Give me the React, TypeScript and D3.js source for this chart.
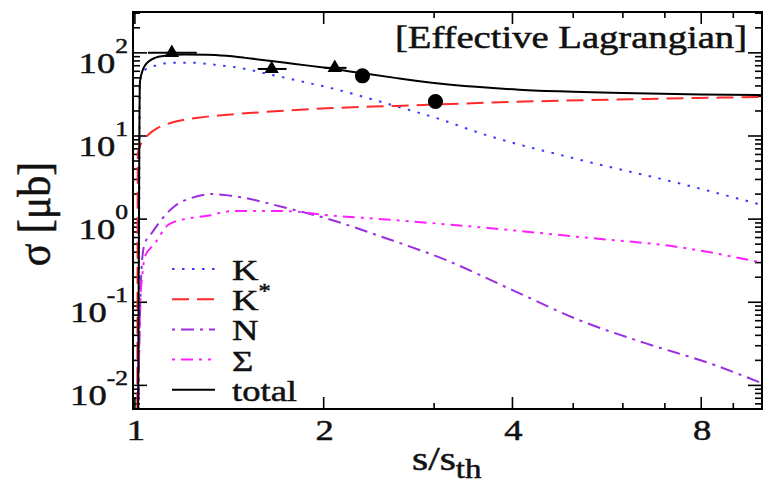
import React from 'react';
import * as d3 from 'd3';

// s/s_th vs sigma [mub]
const kaonCurve: [number, number][] = [
  [1.012, 0.0052], [1.016, 1], [1.018, 46], [1.037, 62], [1.076, 70], [1.148, 76],
  [1.232, 76], [1.36, 71], [1.469, 66], [1.64, 55], [1.878, 44], [2.12, 35.5],
  [2.394, 27.5], [2.71, 21], [3.06, 16], [3.54, 10.9], [5.11, 5.2], [7.37, 2.7], [10, 1.48],
];
const kaonStarCurve: [number, number][] = [
  [1.009, 0.0052], [1.011, 6.2], [1.026, 8.5], [1.049, 10.3], [1.088, 12.5], [1.158, 14.8],
  [1.26, 16.6], [1.391, 17.9], [1.622, 19.5], [2.066, 21.7], [2.61, 23], [4.0, 25.7],
  [6.53, 27.9], [10, 29.5],
];
const nucleonCurve: [number, number][] = [
  [1.012, 0.0052], [1.02, 0.1], [1.026, 0.3], [1.037, 0.51], [1.064, 0.68], [1.104, 1.0],
  [1.158, 1.44], [1.232, 1.8], [1.326, 2.0], [1.432, 1.9], [1.72, 1.4], [2.066, 0.97],
  [2.48, 0.61], [3.14, 0.32], [4.0, 0.14], [5.11, 0.061], [6.53, 0.032], [8.33, 0.018],
  [10, 0.0106],
];
const sigmaCurve: [number, number][] = [
  [1.012, 0.0052], [1.02, 0.1], [1.028, 0.22], [1.037, 0.35], [1.076, 0.51], [1.129, 0.85],
  [1.201, 1.0], [1.307, 1.1], [1.432, 1.25], [1.72, 1.25], [2.066, 1.1], [2.61, 0.97],
  [3.54, 0.8], [5.11, 0.61], [7.37, 0.46], [10, 0.3],
];
const totalCurve: [number, number][] = [
  [1.012, 0.0052], [1.015, 1], [1.017, 20], [1.019, 46], [1.037, 70], [1.076, 87],
  [1.116, 92], [1.2, 95.5], [1.3, 95], [1.4, 92], [1.5, 87], [1.65, 80], [1.8, 73.5],
  [2.0, 66.5], [2.3, 57], [2.6, 50], [3.0, 43.5], [3.5, 39], [4.1, 36], [5.0, 34],
  [6.0, 32.8], [8, 31.5], [10, 31],
];

// measured points: [x, y, xLow, xHigh]
const triangleData: [number, number, number, number][] = [
  [1.145, 100, 1.049, 1.255],
  [1.652, 64, 1.57, 1.745],
  [2.083, 66, 2.006, 2.175],
];
const circleData: [number, number][] = [
  [2.306, 53],
  [3.015, 26],
];

const xTickValues = [1, 2, 4, 8];
const xMinorValues = [3, 5, 6, 7, 9];
const yExponents = [-2, -1, 0, 1, 2];
const legendLabels = ['K', 'K', 'N', 'Σ', 'total'];

const series = [
  { data: kaonCurve, color: '#3a3aff', dash: '2.5 7.5' },
  { data: kaonStarCurve, color: '#ff2a2a', dash: '17 8' },
  { data: nucleonCurve, color: '#9a2fe0', dash: '3 6 13 6' },
  { data: sigmaCurve, color: '#ff1fff', dash: '3 6 12 6 3 6' },
  { data: totalCurve, color: '#000000', dash: null },
];

const W = 765, H = 485;
const L = 133, R = 762, T = 12, B = 409;
const SX = 1.22;
const FONT = 'Liberation Serif';
// the reference text is heavy and soft, a thin outline gives it the same weight
const ink = { fill: '#111', stroke: '#111', strokeWidth: 0.5, fontFamily: FONT };

export default function App() {
  const x = d3.scaleLog().domain([0.993, 10]).range([L, R]);
  const y = d3.scaleLog().domain([0.0052, 310]).range([B, T]);
  const line = d3.line<[number, number]>()
    .x(d => x(d[0]))
    .y(d => y(d[1]))
    .curve(d3.curveMonotoneX);

  const yMinor: number[] = [];
  for (let e = -3; e <= 2; e++) {
    for (let k = 2; k <= 9; k++) {
      const v = k * Math.pow(10, e);
      if (v > 0.0052 && v < 310) yMinor.push(v);
    }
  }

  const tri = d3.symbol().type(d3.symbolTriangle).size(90)();
  const dot = d3.symbol().type(d3.symbolCircle).size(180)();

  return (
    <svg width={W} height={H}
      style={{ position: 'absolute', left: 0, top: 0, background: '#fff' }}>
      <defs>
        <clipPath id="plot"><rect x={L} y={T} width={R - L} height={B - T} /></clipPath>
      </defs>

      {/* ticks */}
      <g stroke="#000" strokeWidth={1.6}>
        {yExponents.map(e => {
          const p = y(Math.pow(10, e));
          return <g key={'ym' + e}>
            <line x1={L} x2={L + 14} y1={p} y2={p} />
            <line x1={R} x2={R - 14} y1={p} y2={p} />
          </g>;
        })}
        {yMinor.map(v => {
          const p = y(v);
          return <g key={'yn' + v}>
            <line x1={L} x2={L + 7} y1={p} y2={p} />
            <line x1={R} x2={R - 7} y1={p} y2={p} />
          </g>;
        })}
        {xTickValues.map(v => {
          const p = x(v);
          return <g key={'xm' + v}>
            <line x1={p} x2={p} y1={B} y2={B - 12} />
            <line x1={p} x2={p} y1={T} y2={T + 12} />
          </g>;
        })}
        {xMinorValues.map(v => {
          const p = x(v);
          return <g key={'xn' + v}>
            <line x1={p} x2={p} y1={B} y2={B - 6} />
            <line x1={p} x2={p} y1={T} y2={T + 6} />
          </g>;
        })}
      </g>

      {/* curves */}
      <g clipPath="url(#plot)" fill="none">
        {series.map((s, i) => (
          <path key={i} d={line(s.data) || ''} stroke={s.color} strokeWidth={2}
            strokeDasharray={s.dash || undefined} />
        ))}
      </g>

      {/* data points */}
      <g fill="#000" stroke="#000">
        {triangleData.map((d, i) => (
          <g key={'t' + i}>
            <line x1={x(d[2])} x2={x(d[3])} y1={y(d[1])} y2={y(d[1])} strokeWidth={2} />
            <path d={tri || ''} transform={`translate(${x(d[0])},${y(d[1])})`} stroke="none" />
          </g>
        ))}
        {circleData.map((d, i) => (
          <path key={'c' + i} d={dot || ''} transform={`translate(${x(d[0])},${y(d[1])})`} stroke="none" />
        ))}
      </g>

      <rect x={L} y={T} width={R - L} height={B - T} fill="none" stroke="#000" strokeWidth={2} />

      {/* y tick labels */}
      {yExponents.map(e => (
        <text key={'yl' + e} {...ink}
          transform={`translate(128,${y(Math.pow(10, e)) + 20}) scale(${SX},1)`}
          textAnchor="end" fontSize={30}>
          10<tspan fontSize={21} dy={-20}>{e}</tspan>
        </text>
      ))}

      {/* x tick labels */}
      {xTickValues.map(v => (
        <text key={'xl' + v} {...ink} transform={`translate(${x(v) + 1},440) scale(${SX},1)`}
          textAnchor="middle" fontSize={30}>{v}</text>
      ))}

      {/* axis titles */}
      <text {...ink} transform={`translate(412,470) scale(${SX},1)`} fontSize={34}>
        s/s<tspan fontSize={27} dy={8}>th</tspan>
      </text>
      <text {...ink} transform="translate(50,214) rotate(-90) scale(1,1.12)"
        textAnchor="middle" fontSize={42}>
        σ [μb]
      </text>

      <text {...ink} x={395} y={48} fontSize={31} textLength={352}
        lengthAdjust="spacingAndGlyphs">
        [Effective Lagrangian]
      </text>

      {/* legend */}
      {series.map((s, i) => {
        const base = 280 + i * 30.2;
        return <g key={'lg' + i}>
          <line x1={172} x2={215} y1={base - 11} y2={base - 11} stroke={s.color} strokeWidth={2}
            strokeDasharray={s.dash || undefined} />
          <text {...ink} transform={`translate(232,${base}) scale(${SX},1)`} fontSize={30}>
            {legendLabels[i]}
            {i === 1 ? <tspan fontSize={20} dy={-12}>*</tspan> : null}
          </text>
        </g>;
      })}
    </svg>
  );
}
